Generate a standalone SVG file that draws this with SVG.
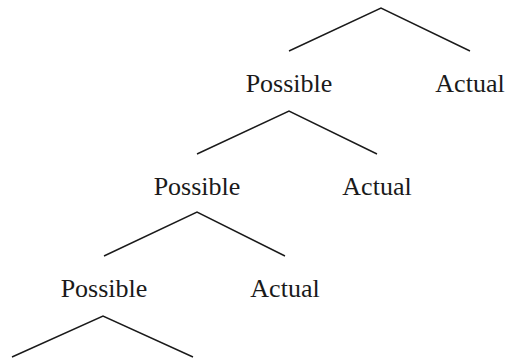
<svg xmlns="http://www.w3.org/2000/svg" width="507" height="360" viewBox="0 0 507 360">
<style>
.e{fill:none;stroke:#1a1a1a;stroke-width:1.4}
.t{font-family:"Liberation Serif","Times New Roman",serif;font-size:26px;fill:#1a1a1a;text-anchor:middle}
</style>
<rect width="507" height="360" fill="#fff"/>
<g id="connectors">
<polyline class="e" points="289,51 381,8 470,51"/>
<polyline class="e" points="197,154 289,111 377,154"/>
<polyline class="e" points="104,256 197,212 285,256"/>
<polyline class="e" points="12,357 103,316 193,357"/>
</g>
<g id="n1-possible"><text class="t" x="289" y="92">Possible</text></g>
<g id="n1-actual"><text class="t" x="470" y="92">Actual</text></g>
<g id="n2-possible"><text class="t" x="197" y="195">Possible</text></g>
<g id="n2-actual"><text class="t" x="377" y="195">Actual</text></g>
<g id="n3-possible"><text class="t" x="104" y="297">Possible</text></g>
<g id="n3-actual"><text class="t" x="285" y="297">Actual</text></g>
</svg>
